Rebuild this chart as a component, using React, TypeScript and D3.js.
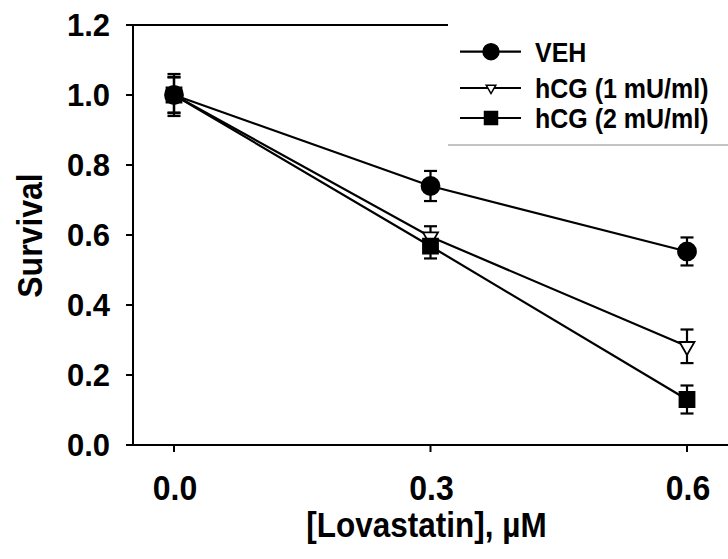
import React from "react";
import * as d3 from "d3";

const doses = [0, 0.3, 0.6];
const xTicks = [0, 0.3, 0.6];
const yTicks = [0, 0.2, 0.4, 0.6, 0.8, 1.0, 1.2];
const seriesNames = ["VEH", "hCG (1 mU/ml)", "hCG (2 mU/ml)"];
const vehMean = [1.0, 0.74, 0.553];
const vehErr = [0.06, 0.043, 0.04];
const hcg1Mean = [1.0, 0.595, 0.282];
const hcg1Err = [0.052, 0.03, 0.048];
const hcg2Mean = [1.0, 0.568, 0.13];
const hcg2Err = [0.05, 0.035, 0.04];

const FONT = "'Liberation Sans', Arial, Helvetica, sans-serif";

export default function App() {
  const W = 728, H = 559;
  const x = d3.scaleLinear().domain([0, 0.6]).range([174, 687]);
  const y = d3.scaleLinear().domain([0, 1.2]).range([445, 25]);
  const axisX = 133;
  const line = d3.line<number>().x((_, i) => x(doses[i])).y((d) => y(d));

  const series = [
    { name: seriesNames[0], mean: vehMean, err: vehErr, sym: d3.symbolCircle, size: 254, fill: "#000", rot: 0, lsize: 200 },
    { name: seriesNames[1], mean: hcg1Mean, err: hcg1Err, sym: d3.symbolTriangle, size: 97, fill: "#fff", rot: 180, lsize: 40 },
    { name: seriesNames[2], mean: hcg2Mean, err: hcg2Err, sym: d3.symbolSquare, size: 225, fill: "#000", rot: 0, lsize: 169 },
  ];
  const legendY = [51.7, 88, 118];
  const capW = 6.5;

  return (
    <svg width={W} height={H} style={{ position: "absolute", left: 0, top: 0, background: "#fff" }} fontFamily={FONT}>
      {/* frame/axes */}
      <line x1={axisX} x2={axisX} y1={25} y2={445} stroke="#000" strokeWidth={2} />
      <line x1={126} x2={728} y1={445} y2={445} stroke="#000" strokeWidth={2} />
      <line x1={126} x2={448} y1={25} y2={25} stroke="#000" strokeWidth={2} />
      {yTicks.map((t) => (
        <g key={"y" + t}>
          <line x1={126} x2={axisX} y1={y(t)} y2={y(t)} stroke="#000" strokeWidth={2} />
          <text x={110} y={y(t) + 11} textAnchor="end" fontSize={31} fontWeight="bold">
            {t.toFixed(1)}
          </text>
        </g>
      ))}
      {xTicks.map((t) => (
        <g key={"x" + t}>
          <line x1={x(t)} x2={x(t)} y1={445} y2={452} stroke="#000" strokeWidth={2} />
          <text transform={`translate(${x(t) + 1},500) scale(1,1.08)`} textAnchor="middle" fontSize={32} fontWeight="bold">
            {t.toFixed(1)}
          </text>
        </g>
      ))}
      <text transform={`translate(426.5,537) scale(1,1.12)`} textAnchor="middle" fontSize={31.5} fontWeight="bold">
        [Lovastatin], µM
      </text>
      <text transform={`translate(42,235.5) rotate(-90) scale(1,1.12)`} textAnchor="middle" fontSize={32} fontWeight="bold">
        Survival
      </text>

      {/* lines */}
      {series.map((s) => (
        <path key={"l" + s.name} d={line(s.mean) || ""} fill="none" stroke="#000" strokeWidth={2.2} />
      ))}
      {/* error bars */}
      {series.map((s) =>
        s.mean.map((m, i) => {
          const cx = x(doses[i]);
          const yt = y(m + s.err[i]);
          const yb = y(m - s.err[i]);
          return (
            <g key={"e" + s.name + i} stroke="#000" strokeWidth={2.2}>
              <line x1={cx} x2={cx} y1={yt} y2={yb} />
              <line x1={cx - capW} x2={cx + capW} y1={yt} y2={yt} />
              <line x1={cx - capW} x2={cx + capW} y1={yb} y2={yb} />
            </g>
          );
        })
      )}
      {/* markers */}
      {series.map((s) =>
        s.mean.map((m, i) => (
          <path
            key={"m" + s.name + i}
            d={d3.symbol().type(s.sym).size(s.size)() || ""}
            transform={`translate(${x(doses[i])},${y(m)}) rotate(${s.rot})`}
            fill={s.fill}
            stroke="#000"
            strokeWidth={1.8}
          />
        ))
      )}

      {/* legend */}
      <rect x={448} y={0} width={280} height={145} fill="#fff" />
      <line x1={448} x2={728} y1={145} y2={145} stroke="#888" strokeWidth={1} />
      {series.map((s, i) => (
        <g key={"lg" + s.name}>
          <line x1={460} x2={521} y1={legendY[i]} y2={legendY[i]} stroke="#000" strokeWidth={2.2} />
          <path
            d={d3.symbol().type(s.sym).size(s.lsize)() || ""}
            transform={`translate(491,${legendY[i]}) rotate(${s.rot})`}
            fill={s.fill}
            stroke="#000"
            strokeWidth={1.5}
          />
          <text transform={`translate(535,${legendY[i] + 10}) scale(1,1.12)`} fontSize={25} fontWeight="bold">
            {s.name}
          </text>
        </g>
      ))}
    </svg>
  );
}
